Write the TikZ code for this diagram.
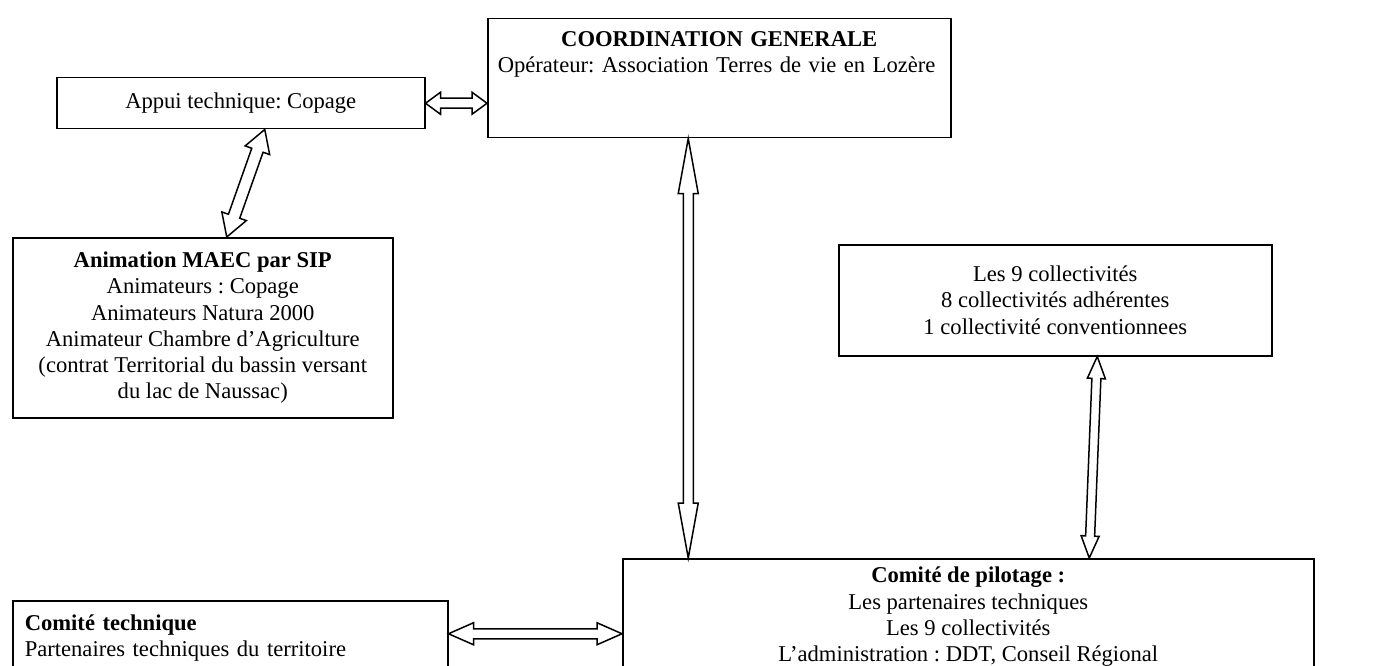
\documentclass[tikz,border=0pt]{standalone}
\usepackage{fontspec}
\setmainfont{Liberation Serif}
\usetikzlibrary{calc, positioning}
\frenchspacing

% hollow double-headed block arrow: #1 head length, #2 head half width,
% #3 shaft half width, from #4 to #5
\newcommand{\dblarrow}[5]{%
  \draw[blockarrow] (#4)
    -- ($(#4)!#1!(#5)!#2!90:(#5)$)
    -- ($(#4)!#1!(#5)!#3!90:(#5)$)
    -- ($(#5)!#1!(#4)!#3!-90:(#4)$)
    -- ($(#5)!#1!(#4)!#2!-90:(#4)$)
    -- (#5)
    -- ($(#5)!#1!(#4)!#2!90:(#4)$)
    -- ($(#5)!#1!(#4)!#3!90:(#4)$)
    -- ($(#4)!#1!(#5)!#3!-90:(#5)$)
    -- ($(#4)!#1!(#5)!#2!-90:(#5)$)
    -- cycle;}

\begin{document}
\begin{tikzpicture}[
    x=1pt, y=-1pt,
    every node/.style={font=\fontsize{22.6pt}{26.3pt}\selectfont},
    box/.style={rectangle, draw=black, line width=1.5pt, anchor=north west,
                align=center, inner sep=0pt},
    blockarrow/.style={draw=black, fill=white, line width=1.5pt, line join=miter}
]
\useasboundingbox (0,0) rectangle (1378,666);

\node (coord) [box, text width=443pt, align=left, inner xsep=10pt, inner ysep=4pt,
               text height=23.6pt, text depth=87.4pt] at (487,18)
    {\makebox[\linewidth]{\bfseries COORDINATION GENERALE}\\
     \mbox{Opérateur: Association Terres de vie en Lozère}};
\node (appui) [box, minimum width=368pt, minimum height=51pt] at (56,77) {Appui technique: Copage};
\node (anim) [box, minimum width=380pt, minimum height=180pt] at (12,237)
    {\textbf{Animation MAEC par SIP}\\Animateurs : Copage\\Animateurs Natura 2000\\
     Animateur Chambre d’Agriculture\\(contrat Territorial du bassin versant\\du lac de Naussac)};
\node (collect) [box, minimum width=433pt, minimum height=111pt] at (838,244)
    {Les 9 collectivités\\8 collectivités adhérentes\\1 collectivité conventionnees};
\node (tech) [box, text width=411pt, align=left, inner xsep=12pt, minimum height=74pt] at (12,600)
    {\textbf{Comité technique}\\Partenaires techniques du territoire};
\node (pilot) [box, minimum width=691pt, minimum height=116pt] at (622,558)
    {\textbf{Comité de pilotage :}\\Les partenaires techniques\\Les 9 collectivités\\
     L’administration : DDT, Conseil Régional};

\coordinate (appuiR) at (appui.east);
\coordinate (coordL) at (appui.east -| coord.west);
\coordinate (appuiB) at ([xshift=24pt]appui.south);
\coordinate (animT) at ([xshift=24pt]anim.north);
\coordinate (coordB) at ([xshift=-31pt]coord.south);
\coordinate (pilotT) at (coordB |- pilot.north);
\coordinate (collectB) at ([xshift=42pt]collect.south);
\coordinate (pilotC) at ([xshift=121pt]pilot.north);
\coordinate (techR) at ([yshift=4pt]tech.east);
\coordinate (pilotL) at (techR -| pilot.west);

\dblarrow{15pt}{11pt}{5pt}{appuiR}{coordL}
\dblarrow{22pt}{13pt}{6pt}{appuiB}{animT}
\dblarrow{55pt}{10pt}{5pt}{coordB}{pilotT}
\dblarrow{22pt}{9pt}{4.5pt}{collectB}{pilotC}
\dblarrow{25pt}{11pt}{5pt}{techR}{pilotL}

\end{tikzpicture}
\end{document}
